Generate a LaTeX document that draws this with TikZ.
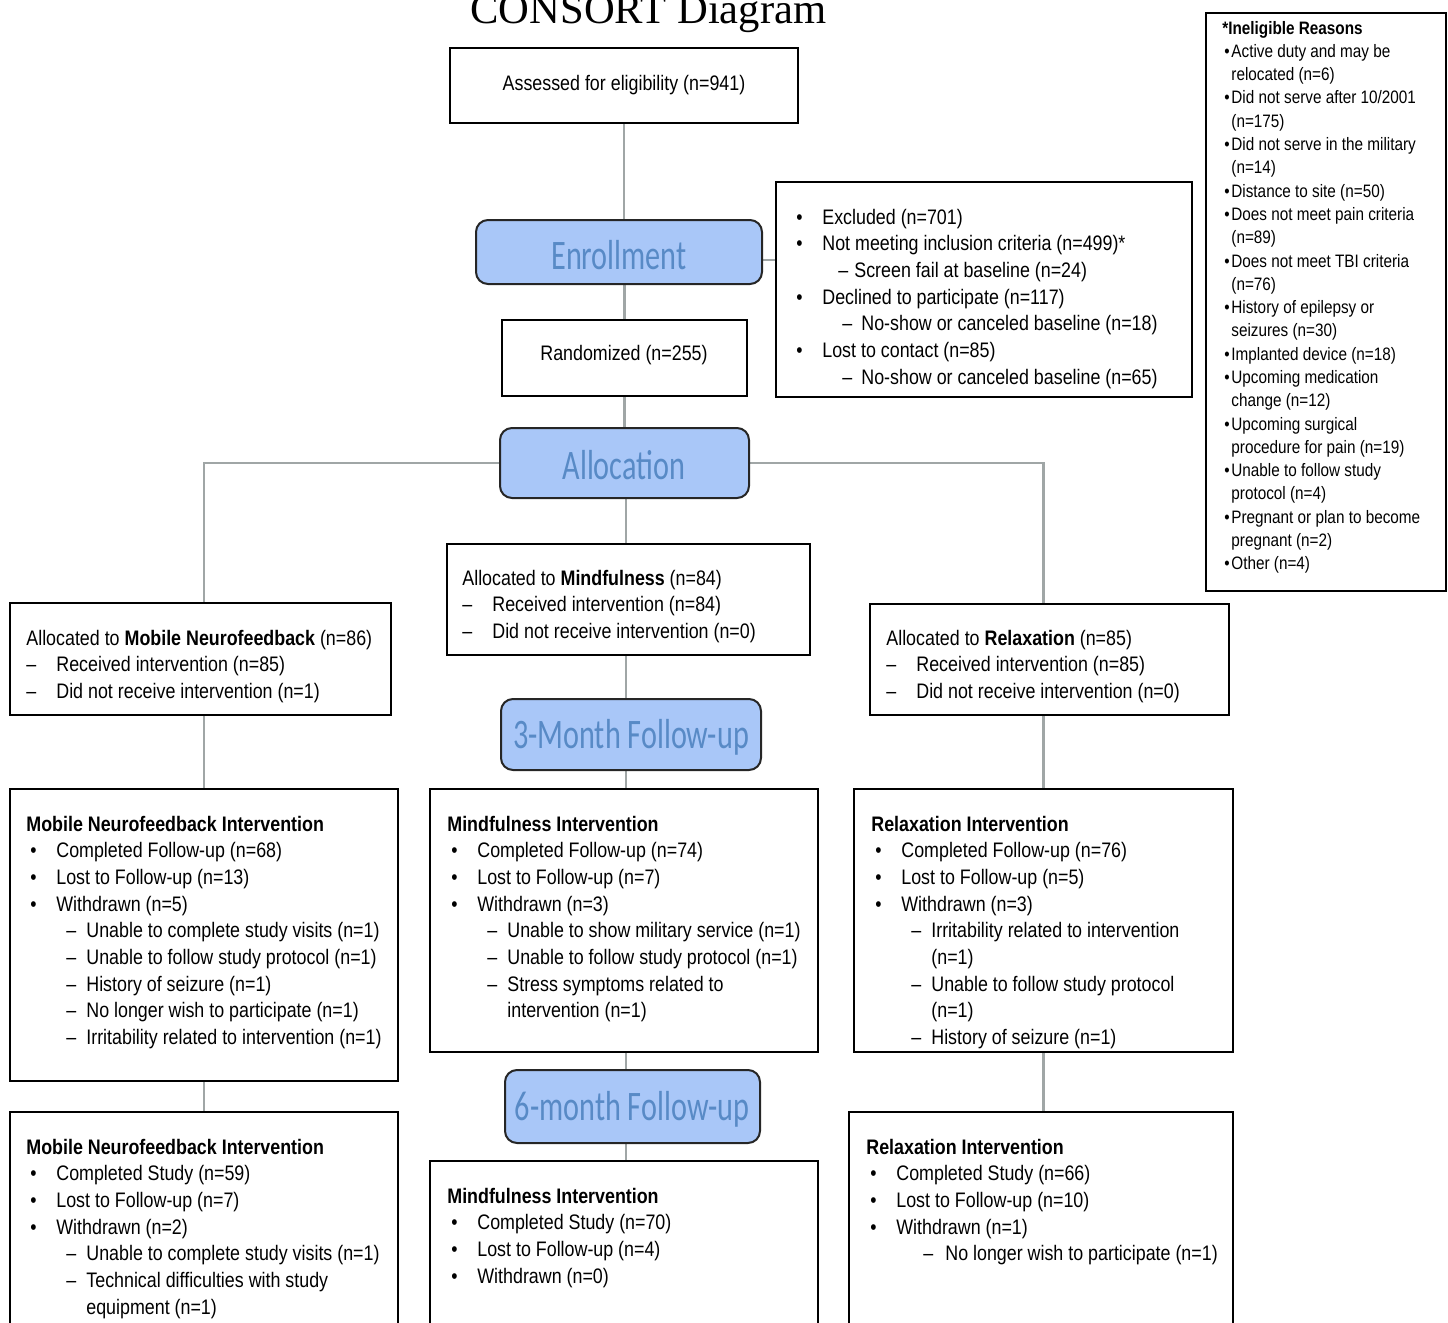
\documentclass[tikz,border=0pt]{standalone}
\usepackage{fontspec}
\setmainfont{Liberation Sans}[FakeStretch=0.85]
\newfontfamily\titlefont{Liberation Serif}
\newfontfamily\stagefont{Carlito}[FakeStretch=0.72]
\usetikzlibrary{fit,backgrounds}
\definecolor{stagefill}{RGB}{169,199,248}
\definecolor{stagetext}{RGB}{88,138,198}
\definecolor{conngray}{RGB}{160,166,166}
\newcommand{\boxlines}[1]{\begin{minipage}[t]{230pt}\raggedright\setlength{\parindent}{0pt}#1\end{minipage}}
\newcommand{\cbul}[1]{\hspace*{2pt}\makebox[13pt][l]{•}#1}
\newcommand{\cdash}[1]{\hspace*{20pt}\makebox[10pt][l]{–}#1}
\newcommand{\ccont}[1]{\hspace*{30pt}#1}
\newcommand{\cadash}[1]{\makebox[15pt][l]{–}#1}
\newcommand{\exbul}[1]{\hspace*{1pt}\makebox[13pt][l]{•}#1}
\newcommand{\ibul}[1]{\hspace*{1pt}\makebox[3.5pt][l]{•}#1}
\newcommand{\icont}[1]{\hspace*{4.5pt}#1}
\begin{document}
\begin{tikzpicture}[x=0.5pt,y=-0.5pt,
  box/.style={draw=black, line width=1pt, fill=white, inner sep=0pt},
  stagebox/.style={draw=black!85, line width=1pt, fill=stagefill, rounded corners=6pt, inner sep=0pt},
  stagelbl/.style={anchor=base, inner sep=0pt, text=stagetext, font=\stagefont\fontsize{21}{24}\selectfont},
  txt/.style={anchor=base west, inner sep=0pt, font=\fontsize{10.5}{13.35}\selectfont},
  ctxt/.style={anchor=base, inner sep=0pt, font=\fontsize{10.5}{13.35}\selectfont},
  itxt/.style={anchor=base west, inner sep=0pt, font=\fontsize{9}{11.65}\selectfont},
  conn/.style={draw=conngray, line width=1.2pt},
]
\useasboundingbox (0,0) rectangle (1448,1323);

% title
\node[anchor=base west, inner sep=0pt, font=\titlefont\fontsize{21.3}{24}\selectfont] (title) at (470,23) {CONSORT Diagram};

% boxes
\node[box, fit={(450,48) (798,123)}] (assess) {};
\node[ctxt] (assesst) at (624,90) {Assessed for eligibility (n=941)};

\node[stagebox, fit={(476,220) (762,284)}] (enroll) {};
\node[stagelbl] (enrollt) at (619,269) {Enrollment};

\node[box, fit={(776,182) (1192,397)}] (excl) {};
\node[txt] (exclt) at (794,224) {\boxlines{%
\exbul{Excluded (n=701)}\par
\exbul{Not meeting inclusion criteria (n=499)*}\par
\hspace*{22pt}\makebox[8pt][l]{–}Screen fail at baseline (n=24)\par
\exbul{Declined to participate (n=117)}\par
\hspace*{24pt}\makebox[9.5pt][l]{–}No-show or canceled baseline (n=18)\par
\exbul{Lost to contact (n=85)}\par
\hspace*{24pt}\makebox[9.5pt][l]{–}No-show or canceled baseline (n=65)}};

\node[box, fit={(502,320) (747,396)}] (rand) {};
\node[ctxt] (randt) at (624,360) {Randomized (n=255)};

\node[stagebox, fit={(500,428) (749,498)}] (alloc) {};
\node[stagelbl] (alloct) at (624,479) {Allocation};

\node[box, fit={(1206,13) (1446,591)}] (inel) {};
\node[itxt] (inelt) at (1222,34) {\boxlines{%
\textbf{*Ineligible Reasons}\par
\ibul{Active duty and may be}\par
\icont{relocated (n=6)}\par
\ibul{Did not serve after 10/2001}\par
\icont{(n=175)}\par
\ibul{Did not serve in the military}\par
\icont{(n=14)}\par
\ibul{Distance to site (n=50)}\par
\ibul{Does not meet pain criteria}\par
\icont{(n=89)}\par
\ibul{Does not meet TBI criteria}\par
\icont{(n=76)}\par
\ibul{History of epilepsy or}\par
\icont{seizures (n=30)}\par
\ibul{Implanted device (n=18)}\par
\ibul{Upcoming medication}\par
\icont{change (n=12)}\par
\ibul{Upcoming surgical}\par
\icont{procedure for pain (n=19)}\par
\ibul{Unable to follow study}\par
\icont{protocol (n=4)}\par
\ibul{Pregnant or plan to become}\par
\icont{pregnant (n=2)}\par
\ibul{Other (n=4)}}};

% allocation boxes
\node[box, fit={(10,603) (391,715)}] (lalloc) {};
\node[txt] (lallott) at (26,645) {\boxlines{%
Allocated to \textbf{Mobile Neurofeedback} (n=86)\par
\cadash{Received intervention (n=85)}\par
\cadash{Did not receive intervention (n=1)}}};

\node[box, fit={(447,544) (810,655)}] (malloc) {};
\node[txt] (mallott) at (462,585) {\boxlines{%
Allocated to \textbf{Mindfulness} (n=84)\par
\cadash{Received intervention (n=84)}\par
\cadash{Did not receive intervention (n=0)}}};

\node[box, fit={(870,604) (1229,715)}] (ralloc) {};
\node[txt] (rallott) at (886,645) {\boxlines{%
Allocated to \textbf{Relaxation} (n=85)\par
\cadash{Received intervention (n=85)}\par
\cadash{Did not receive intervention (n=0)}}};

% 3-month
\node[stagebox, fit={(501,699) (761,770)}] (fu3) {};
\node[stagelbl] (fu3t) at (631,748) {3-Month Follow-up};

\node[box, fit={(10,789) (398,1081)}] (lfu3) {};
\node[txt] (lfu3t) at (26,831) {\boxlines{%
\textbf{Mobile Neurofeedback Intervention}\par
\cbul{Completed Follow-up (n=68)}\par
\cbul{Lost to Follow-up (n=13)}\par
\cbul{Withdrawn (n=5)}\par
\cdash{Unable to complete study visits (n=1)}\par
\cdash{Unable to follow study protocol (n=1)}\par
\cdash{History of seizure (n=1)}\par
\cdash{No longer wish to participate (n=1)}\par
\cdash{Irritability related to intervention (n=1)}}};

\node[box, fit={(430,789) (818,1052)}] (mfu3) {};
\node[txt] (mfu3t) at (447,831) {\boxlines{%
\textbf{Mindfulness Intervention}\par
\cbul{Completed Follow-up (n=74)}\par
\cbul{Lost to Follow-up (n=7)}\par
\cbul{Withdrawn (n=3)}\par
\cdash{Unable to show military service (n=1)}\par
\cdash{Unable to follow study protocol (n=1)}\par
\cdash{Stress symptoms related to}\par
\ccont{intervention (n=1)}}};

\node[box, fit={(854,789) (1233,1052)}] (rfu3) {};
\node[txt] (rfu3t) at (871,831) {\boxlines{%
\textbf{Relaxation Intervention}\par
\cbul{Completed Follow-up (n=76)}\par
\cbul{Lost to Follow-up (n=5)}\par
\cbul{Withdrawn (n=3)}\par
\cdash{Irritability related to intervention}\par
\ccont{(n=1)}\par
\cdash{Unable to follow study protocol}\par
\ccont{(n=1)}\par
\cdash{History of seizure (n=1)}}};

% 6-month
\node[stagebox, fit={(505,1070) (760,1143)}] (fu6) {};
\node[stagelbl] (fu6t) at (632,1120) {6-month Follow-up};

\node[box, fit={(10,1112) (398,1345)}] (lfu6) {};
\node[txt] (lfu6t) at (26,1154) {\boxlines{%
\textbf{Mobile Neurofeedback Intervention}\par
\cbul{Completed Study (n=59)}\par
\cbul{Lost to Follow-up (n=7)}\par
\cbul{Withdrawn (n=2)}\par
\cdash{Unable to complete study visits (n=1)}\par
\cdash{Technical difficulties with study}\par
\ccont{equipment (n=1)}}};

\node[box, fit={(430,1161) (818,1345)}] (mfu6) {};
\node[txt] (mfu6t) at (447,1203) {\boxlines{%
\textbf{Mindfulness Intervention}\par
\cbul{Completed Study (n=70)}\par
\cbul{Lost to Follow-up (n=4)}\par
\cbul{Withdrawn (n=0)}}};

\node[box, fit={(849,1112) (1233,1345)}] (rfu6) {};
\node[txt] (rfu6t) at (866,1154) {\boxlines{%
\textbf{Relaxation Intervention}\par
\cbul{Completed Study (n=66)}\par
\cbul{Lost to Follow-up (n=10)}\par
\cbul{Withdrawn (n=1)}\par
\hspace*{28.5pt}\makebox[11pt][l]{–}No longer wish to participate (n=1)}};

\coordinate (midx) at (626,0);
\coordinate (exy) at (0,260);

% connectors
\begin{scope}[on background layer]
\draw[conn] (assess.south) -- (assess.south |- enroll.north);
\draw[conn] (enroll.east |- exy) -- (excl.west |- exy);
\draw[conn] (rand.north |- enroll.south) -- (rand.north);
\draw[conn] (rand.south) -- (rand.south |- alloc.north);
\draw[conn] (alloc.west) -| (lfu3.north |- lalloc.north);
\draw[conn] (alloc.east) -| (rfu3.north |- ralloc.north);
\draw[conn] (midx |- alloc.south) -- (midx |- malloc.north);
\draw[conn] (midx |- malloc.south) -- (midx |- fu3.north);
\draw[conn] (lfu3.north |- lalloc.south) -- (lfu3.north);
\draw[conn] (rfu3.north |- ralloc.south) -- (rfu3.north);
\draw[conn] (midx |- fu3.south) -- (midx |- mfu3.north);
\draw[conn] (lfu3.south) -- (lfu3.south |- lfu6.north);
\draw[conn] (midx |- mfu3.south) -- (midx |- fu6.north);
\draw[conn] (midx |- fu6.south) -- (midx |- mfu6.north);
\draw[conn] (rfu3.south) -- (rfu3.south |- rfu6.north);
\end{scope}
\end{tikzpicture}
\end{document}
